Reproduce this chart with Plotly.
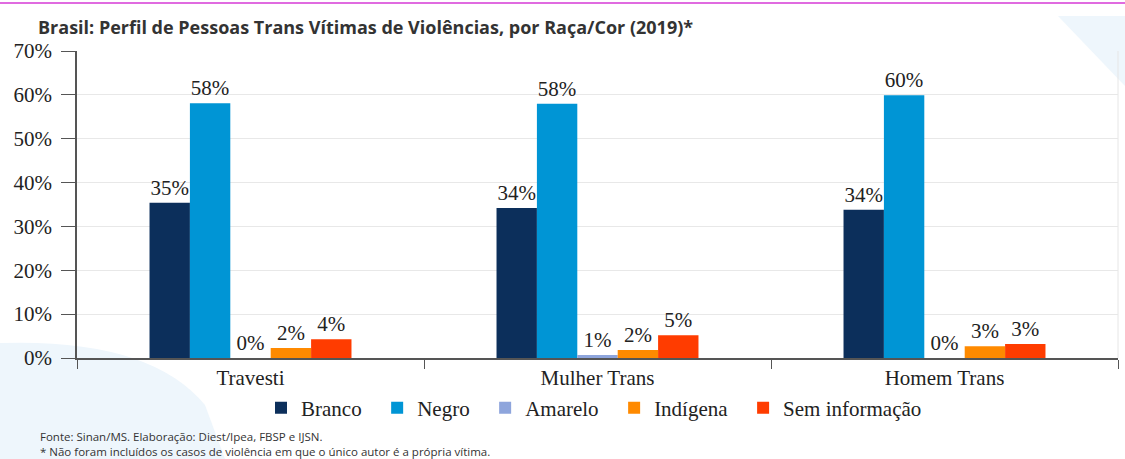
import plotly.graph_objects as go

categories = ["Travesti", "Mulher Trans", "Homem Trans"]
series_names = ["Branco", "Negro", "Amarelo", "Indígena", "Sem informação"]
branco = [35.4, 34.2, 33.8]
negro = [58.1, 58.0, 59.9]
amarelo = [0.0, 0.7, 0.0]
indigena = [2.3, 1.8, 2.7]
sem_info = [4.3, 5.2, 3.2]
colors = ["#0c2f5b", "#0095d5", "#8ea5dc", "#ff8a00", "#ff3c00"]
y_ticks = [0, 10, 20, 30, 40, 50, 60, 70]
y_tick_labels = ["0%", "10%", "20%", "30%", "40%", "50%", "60%", "70%"]

W, H = 1125, 459
L, R, T, B = 77, 7, 51, 101
pw, ph = W - L - R, H - T - B


def px(x):
    return (x - L) / pw


def py(y):
    return (H - B - y) / ph


SERIF = "Liberation Serif"
PAD = "\u00a0\u00a0"
fig = go.Figure()
for name, vals, col in zip(series_names, [branco, negro, amarelo, indigena, sem_info], colors):
    fig.add_trace(go.Bar(
        x=categories, y=vals, name=name + PAD, marker_color=col, marker_line_width=0,
        texttemplate="%{y:.0f}%", textposition="outside",
        textfont=dict(family=SERIF, size=21, color="#222222"),
        cliponaxis=False,
    ))

shapes = [
    dict(type="path", xref="paper", yref="paper", layer="below",
         path=f"M {px(0)},{py(343)} Q {px(150)},{py(338)} {px(205)},{py(405)} L {px(225)},{py(459)} L {px(0)},{py(459)} Z",
         fillcolor="#eef6fc", line_width=0),
    dict(type="path", xref="paper", yref="paper", layer="below",
         path=f"M {px(1058)},{py(16)} L {px(1125)},{py(16)} L {px(1125)},{py(86)} Z",
         fillcolor="#eef6fc", line_width=0),
    dict(type="line", xref="paper", yref="paper", x0=px(0), x1=px(1125), y0=py(3), y1=py(3),
         line=dict(color="#d63ad6", width=1.5)),
    dict(type="line", xref="paper", yref="paper", x0=1, x1=1, y0=0, y1=1,
         line=dict(color="#e6e6e6", width=1), layer="below"),
]

fig.update_layout(
    width=W, height=H,
    margin=dict(l=L, r=R, t=T, b=B),
    paper_bgcolor="white", plot_bgcolor="white",
    barmode="group", bargap=0.418, bargroupgap=0,
    title=dict(text="<b>Brasil: Perfil de Pessoas Trans Vítimas de Violências, por Raça/Cor (2019)*</b>",
               x=38 / W, xanchor="left", y=1 - 28 / H, yanchor="middle",
               font=dict(family="Open Sans", size=18, color="#333333")),
    showlegend=True,
    legend=dict(orientation="h", x=px(599), xanchor="center", y=py(408), yanchor="middle",
                font=dict(family=SERIF, size=21, color="#222222"),
                itemwidth=30, traceorder="normal"),
    shapes=shapes,
    annotations=[
        dict(text="Fonte: Sinan/MS. Elaboração: Diest/Ipea, FBSP e IJSN.", xref="paper", yref="paper",
             x=px(38), y=py(436), xanchor="left", yanchor="middle", showarrow=False,
             font=dict(family="Open Sans", size=11.5, color="#333333")),
        dict(text="* Não foram incluídos os casos de violência em que o único autor é a própria vítima.",
             xref="paper", yref="paper", x=px(38), y=py(451), xanchor="left", yanchor="middle",
             showarrow=False, font=dict(family="Open Sans", size=11.5, color="#333333")),
    ],
)
fig.update_yaxes(range=[0, 70], tickvals=y_ticks, ticktext=y_tick_labels,
                 showgrid=True, gridcolor="#e8e8e8", gridwidth=1,
                 showline=True, linecolor="#555555", linewidth=1.5,
                 ticks="outside", ticklen=14, tickcolor="#555555",
                 ticklabelstandoff=5,
                 tickfont=dict(family=SERIF, size=21, color="#222222"),
                 zeroline=False, fixedrange=True)
fig.update_xaxes(showline=True, linecolor="#555555", linewidth=1.5,
                 ticks="outside", tickson="boundaries", ticklen=9, tickcolor="#555555",
                 tickfont=dict(family=SERIF, size=21, color="#222222"),
                 showgrid=False, fixedrange=True)

fig.write_html("out.html", config={"displayModeBar": False},
               post_script="document.body.style.margin='0';document.body.style.padding='0';")
